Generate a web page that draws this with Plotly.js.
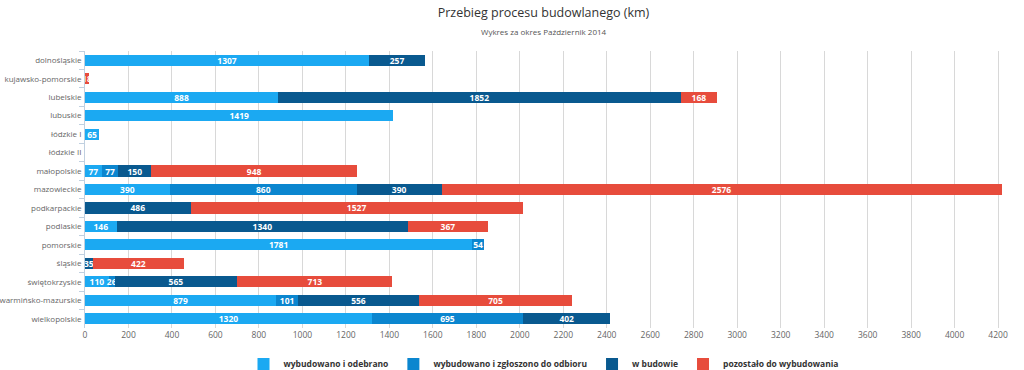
<!DOCTYPE html>
<html>
<head>
<meta charset="utf-8">
<script src="https://cdn.plot.ly/plotly-3.0.1.min.js"></script>
<style>html,body{margin:0;padding:0;background:#fff;}#chart{width:1024px;height:370px;}</style>
</head>
<body>
<div id="chart"></div>
<script>
var categories = ["dolnośląskie","kujawsko-pomorskie","lubelskie","lubuskie","łódzkie I","łódzkie II","małopolskie","mazowieckie","podkarpackie","podlaskie","pomorskie","śląskie","świętokrzyskie","warmińsko-mazurskie","wielkopolskie"];
var seriesNames = ["wybudowano i odebrano","wybudowano i zgłoszono do odbioru","w budowie","pozostało do wybudowania"];
var odebrano   = [1307, null, 888, 1419, 65, null, 77, 390, 0, 146, 1781, null, 110, 879, 1320];
var zgloszono  = [0, null, 0, 0, 0, null, 77, 860, 0, 0, 54, null, 26, 101, 695];
var wBudowie   = [257, null, 1852, null, null, null, 150, 390, 486, 1340, null, 35, 565, 556, 402];
var pozostalo  = [0, 18, 168, null, null, null, 948, 2576, 1527, 367, null, 422, 713, 705, 0];
var xTicks = [0,200,400,600,800,1000,1200,1400,1600,1800,2000,2200,2400,2600,2800,3000,3200,3400,3600,3800,4000,4200];

var colors = ["#1ba9f2","#0b86cf","#09598f","#e74c3c"];
var values = [odebrano, zgloszono, wBudowie, pozostalo];

var data = values.map(function(v, i){
  return {
    type: 'bar',
    orientation: 'h',
    name: '<b>' + seriesNames[i] + '</b>',
    y: categories,
    x: v,
    marker: {color: colors[i], line: {width: 0}},
    text: v.map(function(a){ return a === null ? '' : String(a); }),
    textposition: 'inside',
    insidetextanchor: 'middle',
    textangle: 0,
    constraintext: 'none',
    cliponaxis: false,
    textfont: {family: 'Open Sans, sans-serif', size: 8.5, color: '#ffffff', weight: 'bold'},
    hoverinfo: 'x+name'
  };
});

var layout = {
  width: 1024, height: 370,
  barmode: 'stack',
  bargap: 0.4,
  paper_bgcolor: '#ffffff',
  plot_bgcolor: '#ffffff',
  margin: {l: 85, r: 22, t: 51, b: 42},
  font: {family: 'Open Sans, sans-serif', color: '#666666'},
  title: {
    text: 'Przebieg procesu budowlanego (km)',
    font: {size: 12.5, color: '#333333', family: 'Open Sans, sans-serif'},
    x: 0.5, xref: 'paper', xanchor: 'center',
    y: 1 - 13/370, yref: 'container', yanchor: 'middle'
  },
  annotations: [{
    text: 'Wykres za okres Październik 2014',
    xref: 'paper', yref: 'paper', x: 0.5, y: 1 + (51-31)/277, xanchor: 'center', yanchor: 'middle',
    showarrow: false, font: {size: 8, color: '#555555', family: 'Open Sans, sans-serif'}
  }],
  xaxis: {
    range: [0, 4218],
    tickvals: xTicks,
    ticktext: xTicks.map(String),
    showgrid: true, gridcolor: '#d8d8d8', gridwidth: 1,
    zeroline: false, showline: false,
    ticks: '', tickfont: {size: 8.5, color: '#666666'},
    fixedrange: true
  },
  yaxis: {
    type: 'category',
    categoryorder: 'array', categoryarray: categories,
    autorange: 'reversed',
    showgrid: false, zeroline: false,
    showline: true, linecolor: '#c0d0e0', linewidth: 1,
    ticks: 'outside', tickson: 'boundaries', ticklen: 5, tickcolor: '#c0d0e0',
    tickfont: {size: 8, color: '#666666', family: 'Open Sans, sans-serif'},
    ticklabelstandoff: 1,
    fixedrange: true
  },
  showlegend: true,
  legend: {
    orientation: 'h', x: 0.5, xanchor: 'center', xref: 'paper',
    y: 6/370, yref: 'container', yanchor: 'middle',
    traceorder: 'normal',
    font: {size: 8.5, color: '#333333', family: 'Open Sans, sans-serif'},
    itemwidth: 30
  }
};

Plotly.newPlot('chart', data, layout, {displayModeBar: false, staticPlot: true});
</script>
</body>
</html>
